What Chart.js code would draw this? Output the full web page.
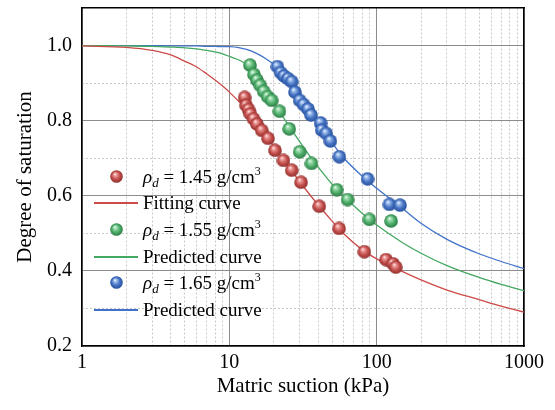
<!DOCTYPE html>
<html>
<head>
<meta charset="utf-8">
<script src="https://cdn.jsdelivr.net/npm/chart.js@4/dist/chart.umd.min.js"></script>
<style>
html,body{margin:0;padding:0;background:#fff;}
#wrap{position:relative;width:555px;height:410px;}
#chart{position:absolute;left:0;top:0;}
#legend{position:absolute;left:0;top:0;width:555px;height:410px;pointer-events:none;font-family:"Liberation Serif","Times New Roman",serif;font-size:19px;color:#000;}
.row{position:absolute;left:0;height:26px;width:300px;}
.txt{position:absolute;left:143px;top:0;line-height:26px;white-space:nowrap;}
.txt i{font-style:italic;}
.sub{font-size:13px;vertical-align:-4px;line-height:0;font-style:italic;}
.sup{font-size:12px;vertical-align:8px;line-height:0;}
.ln{position:absolute;left:94px;width:44px;top:12px;height:2px;}
.mk{position:absolute;left:110px;top:6px;}
</style>
</head>
<body>
<div id="wrap">
<canvas id="chart" width="555" height="410"></canvas>
<div id="legend"></div>
</div>
<script>
// ---------------- data ----------------
const redSuction = [12.7, 13.0, 13.5, 13.9, 14.6, 15.4, 16.6, 18.3, 20.4, 23.3, 26.5, 30.7, 40.8, 55.6, 82.5, 115.8, 129.2, 134.8];
const redSaturation = [0.862, 0.841, 0.830, 0.818, 0.805, 0.791, 0.774, 0.753, 0.721, 0.694, 0.668, 0.636, 0.572, 0.513, 0.451, 0.430, 0.419, 0.410];

const greenSuction = [13.8, 14.7, 15.4, 16.2, 17.1, 18.2, 19.4, 21.9, 25.5, 30.0, 36.1, 53.6, 63.5, 89.2, 125.3];
const greenSaturation = [0.948, 0.923, 0.908, 0.894, 0.878, 0.864, 0.854, 0.825, 0.778, 0.717, 0.686, 0.616, 0.590, 0.537, 0.533];

const blueSuction = [21.2, 22.3, 23.5, 25.0, 26.5, 27.9, 30.0, 31.9, 34.2, 35.9, 41.6, 42.4, 45.4, 48.5, 55.8, 86.7, 122.0, 144.1];
const blueSaturation = [0.944, 0.928, 0.919, 0.912, 0.904, 0.876, 0.854, 0.843, 0.831, 0.815, 0.794, 0.775, 0.766, 0.746, 0.704, 0.645, 0.577, 0.575];

const curveSuction = [1, 2, 3, 4, 5, 6, 7, 8, 9, 10, 12, 14, 16, 18, 20, 22, 25, 30, 35, 40, 50, 60, 80, 100, 150, 200, 300, 500, 700, 1000];
const fitRed     = [0.999, 0.995, 0.987, 0.975, 0.958, 0.943, 0.925, 0.908, 0.892, 0.876, 0.845, 0.815, 0.786, 0.758, 0.732, 0.709, 0.680, 0.638, 0.604, 0.576, 0.532, 0.498, 0.456, 0.432, 0.398, 0.376, 0.349, 0.323, 0.306, 0.290];
const predGreen  = [1.000, 0.999, 0.998, 0.996, 0.994, 0.991, 0.987, 0.983, 0.978, 0.971, 0.959, 0.940, 0.908, 0.876, 0.848, 0.823, 0.790, 0.744, 0.707, 0.677, 0.630, 0.598, 0.553, 0.522, 0.475, 0.447, 0.414, 0.382, 0.364, 0.347];
const predBlue   = [1.000, 1.000, 1.000, 0.999, 0.999, 0.999, 0.998, 0.998, 0.997, 0.997, 0.993, 0.986, 0.975, 0.963, 0.950, 0.936, 0.910, 0.862, 0.825, 0.795, 0.740, 0.700, 0.652, 0.620, 0.566, 0.527, 0.484, 0.445, 0.425, 0.406];

const xMajorTicks = [1, 10, 100, 1000];
const xMinorTicks = [2, 3, 4, 5, 6, 7, 8, 9, 20, 30, 40, 50, 60, 70, 80, 90, 200, 300, 400, 500, 600, 700, 800, 900];
const yMajorTicks = [0.2, 0.4, 0.6, 0.8, 1.0];
const yMinorTicks = [0.3, 0.5, 0.7, 0.9];

const legendLabels = [
  {kind: 'point', html: '<i>ρ</i><span class="sub">d</span> = 1.45 g/cm<span class="sup">3</span>'},
  {kind: 'line', html: 'Fitting curve'},
  {kind: 'point', html: '<i>ρ</i><span class="sub">d</span> = 1.55 g/cm<span class="sup">3</span>'},
  {kind: 'line', html: 'Predicted curve'},
  {kind: 'point', html: '<i>ρ</i><span class="sub">d</span> = 1.65 g/cm<span class="sup">3</span>'},
  {kind: 'line', html: 'Predicted curve'}
];

// ---------------- styles ----------------
const FONT = '"Liberation Serif", "Times New Roman", serif';
const COL = {
  red:   {line: '#cc4b48', base: '#c4504d', light: '#ee9e9c', dark: '#8e2e2c'},
  green: {line: '#45a862', base: '#4fae6b', light: '#a2dfb1', dark: '#2a7a43'},
  blue:  {line: '#3f72c8', base: '#4673c3', light: '#a0c0ee', dark: '#25509c'}
};

function sphere(c, size) {
  const cv = document.createElement('canvas');
  cv.width = size; cv.height = size;
  const g = cv.getContext('2d');
  const r = size / 2;
  const grad = g.createRadialGradient(r - 0.25 * r, r - 0.4 * r, 0, r, r, r);
  grad.addColorStop(0, '#ffffff');
  grad.addColorStop(0.22, c.light);
  grad.addColorStop(0.6, c.base);
  grad.addColorStop(1, c.dark);
  g.fillStyle = grad;
  g.beginPath();
  g.arc(r, r, r - 0.2, 0, Math.PI * 2);
  g.fill();
  return cv;
}

function pts(xs, ys) { return xs.map((x, i) => ({x: x, y: ys[i]})); }

const curveDS = (ys, c) => ({
  type: 'line', data: pts(curveSuction, ys), borderColor: c.line, borderWidth: 1.3,
  pointRadius: 0, fill: false, cubicInterpolationMode: 'monotone', order: 2
});
const pointDS = (xs, ys, c) => ({
  type: 'scatter', data: pts(xs, ys), pointStyle: sphere(c, 14), pointRadius: 7,
  showLine: false, order: 1
});

function noPad(s) { s.paddingTop = 0; s.paddingBottom = 0; s.paddingLeft = 0; s.paddingRight = 0; }

new Chart(document.getElementById('chart'), {
  type: 'scatter',
  data: {
    datasets: [
      curveDS(fitRed, COL.red),
      curveDS(predGreen, COL.green),
      curveDS(predBlue, COL.blue),
      pointDS(redSuction, redSaturation, COL.red),
      pointDS(greenSuction, greenSaturation, COL.green),
      pointDS(blueSuction, blueSaturation, COL.blue)
    ]
  },
  options: {
    responsive: false,
    animation: false,
    events: [],
    layout: {padding: {left: 0, right: 31, top: 7, bottom: 0}},
    plugins: {legend: {display: false}, tooltip: {enabled: false}},
    scales: {
      x: {
        type: 'logarithmic', position: 'bottom', min: 1, max: 1000,
        afterBuildTicks: s => { s.ticks = xMajorTicks.map(v => ({value: v})); },
        afterFit: s => { s.height = 64; noPad(s); },
        ticks: {callback: v => String(v), font: {family: FONT, size: 20}, color: '#000', padding: 5, maxRotation: 0, autoSkip: false},
        grid: {color: '#8c8c8c', lineWidth: 1, drawTicks: false},
        border: {color: '#000', width: 1.5},
        title: {display: true, text: 'Matric suction (kPa)', font: {family: FONT, size: 21}, color: '#000', padding: {top: 0, bottom: 11}}
      },
      x2: {
        type: 'logarithmic', position: 'top', min: 1, max: 1000,
        afterBuildTicks: s => { s.ticks = xMinorTicks.map(v => ({value: v})); },
        afterFit: s => { s.height = 0; noPad(s); },
        ticks: {display: false},
        grid: {color: '#c8c8c8', lineWidth: 1, drawTicks: false},
        border: {display: true, color: '#000', width: 1.5, dash: [2, 2]}
      },
      y: {
        type: 'linear', position: 'left', min: 0.2, max: 1.1,
        afterBuildTicks: s => { s.ticks = yMajorTicks.map(v => ({value: v})); },
        afterFit: s => { s.width = 82; noPad(s); },
        ticks: {callback: v => Number(v).toFixed(1), font: {family: FONT, size: 20}, color: '#000', padding: 10},
        grid: {color: '#8c8c8c', lineWidth: 1, drawTicks: false},
        border: {color: '#000', width: 1.5},
        title: {display: true, text: 'Degree of saturation', font: {family: FONT, size: 21}, color: '#000', padding: {top: 13, bottom: 0}}
      },
      y2: {
        type: 'linear', position: 'right', min: 0.2, max: 1.1,
        afterBuildTicks: s => { s.ticks = yMinorTicks.map(v => ({value: v})); },
        afterFit: s => { s.width = 0; noPad(s); },
        ticks: {display: false},
        grid: {color: '#c8c8c8', lineWidth: 1, drawTicks: false},
        border: {display: true, color: '#000', width: 1.5, dash: [2, 2]}
      }
    }
  }
});

// ---------------- legend (HTML text) ----------------
const legendCentres = [177, 203, 230, 257, 283, 310];
const legendColours = [COL.red, COL.red, COL.green, COL.green, COL.blue, COL.blue];
const legend = document.getElementById('legend');
legendLabels.forEach((item, i) => {
  const row = document.createElement('div');
  row.className = 'row';
  row.style.top = (legendCentres[i] - 13) + 'px';
  if (item.kind === 'point') {
    const m = sphere(legendColours[i], 13);
    m.className = 'mk';
    row.appendChild(m);
  } else {
    const l = document.createElement('div');
    l.className = 'ln';
    l.style.background = legendColours[i].line;
    row.appendChild(l);
  }
  const t = document.createElement('span');
  t.className = 'txt';
  t.innerHTML = item.html;
  row.appendChild(t);
  legend.appendChild(row);
});
</script>
</body>
</html>
